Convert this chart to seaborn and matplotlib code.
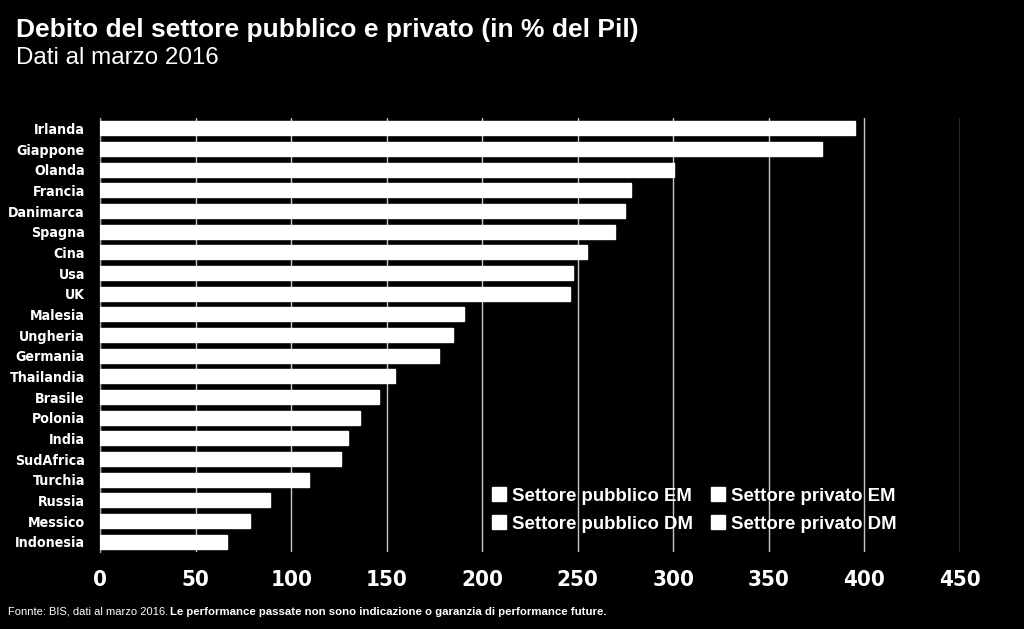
import matplotlib
matplotlib.use("Agg")
import matplotlib.pyplot as plt
import seaborn as sns
import pandas as pd
from matplotlib.patches import Patch

# data (debito totale, % del Pil)
countries = ["Irlanda", "Giappone", "Olanda", "Francia", "Danimarca", "Spagna", "Cina",
             "Usa", "UK", "Malesia", "Ungheria", "Germania", "Thailandia", "Brasile",
             "Polonia", "India", "SudAfrica", "Turchia", "Russia", "Messico", "Indonesia"]
debt = [395.3, 377.9, 300.6, 277.7, 274.6, 269.6, 255.0,
        247.7, 246.0, 190.4, 184.7, 177.2, 154.5, 146.1,
        135.8, 129.5, 126.0, 109.3, 89.0, 78.3, 66.3]
x_ticks = [0, 50, 100, 150, 200, 250, 300, 350, 400, 450]
legend_labels = ["Settore pubblico EM", "Settore pubblico DM",
                 "Settore privato EM", "Settore privato DM"]

df = pd.DataFrame({"paese": countries, "debito": debt})

sns.set_style("dark")
plt.rcParams["font.family"] = ["Liberation Sans", "DejaVu Sans"]

fig = plt.figure(figsize=(10.24, 6.29), dpi=100, facecolor="black")
ax = fig.add_axes([0.0979, 0.1224, 0.8394, 0.690])
ax.set_facecolor("black")

sns.barplot(data=df, x="debito", y="paese", color="white", orient="h",
            width=0.68, saturation=1, ax=ax, zorder=3)

ax.set_xlim(0, 450)
ax.set_ylim(20.5, -0.5)
ax.set_xticks(x_ticks)
ax.xaxis.grid(True, color="#c8c8c8", linewidth=1)
ax.yaxis.grid(False)
ax.set_axisbelow(True)
for s in ["top", "right", "bottom"]:
    ax.spines[s].set_visible(False)
ax.spines["left"].set_visible(True)
ax.spines["left"].set_color("#a0a0a0")
ax.spines["left"].set_linewidth(1)

ax.set_xlabel("")
ax.set_ylabel("")
ax.tick_params(axis="x", length=0, pad=13, colors="white")
ax.tick_params(axis="y", length=0, pad=11, colors="white")
for lab in ax.get_xticklabels():
    lab.set_fontproperties({"family": "DejaVu Sans", "stretch": "condensed",
                            "weight": "bold", "size": 16})
for lab in ax.get_yticklabels():
    lab.set_fontproperties({"family": "DejaVu Sans", "stretch": "condensed",
                            "weight": "bold", "size": 10.2})

handles = [Patch(facecolor="white", edgecolor="white") for _ in legend_labels]
leg = ax.legend(handles, legend_labels, ncol=2, frameon=False,
                loc="upper left", bbox_to_anchor=(483 / 1024, 1 - 478 / 629),
                bbox_transform=fig.transFigure, borderpad=0,
                handlelength=0.75, handleheight=0.75, handletextpad=0.3,
                columnspacing=1.0, labelspacing=0.58,
                prop={"weight": "bold", "size": 13.4})
for t in leg.get_texts():
    t.set_color("white")

fig.text(16 / 1024, 1 - 30 / 629, "Debito del settore pubblico e privato (in % del Pil)",
         color="white", fontsize=19, fontweight="bold", va="center")
fig.text(16 / 1024, 1 - 58 / 629, "Dati al marzo 2016",
         color="white", fontsize=17.4, va="center")

fig.text(8 / 1024, 1 - 612 / 629, "Fonnte: BIS, dati al marzo 2016.",
         color="white", fontsize=8, va="center")
fig.text(170 / 1024, 1 - 612 / 629,
         "Le performance passate non sono indicazione o garanzia di performance future.",
         color="white", fontsize=8.2, fontweight="bold", va="center")

fig.savefig("out.png", dpi=100, facecolor="black")
